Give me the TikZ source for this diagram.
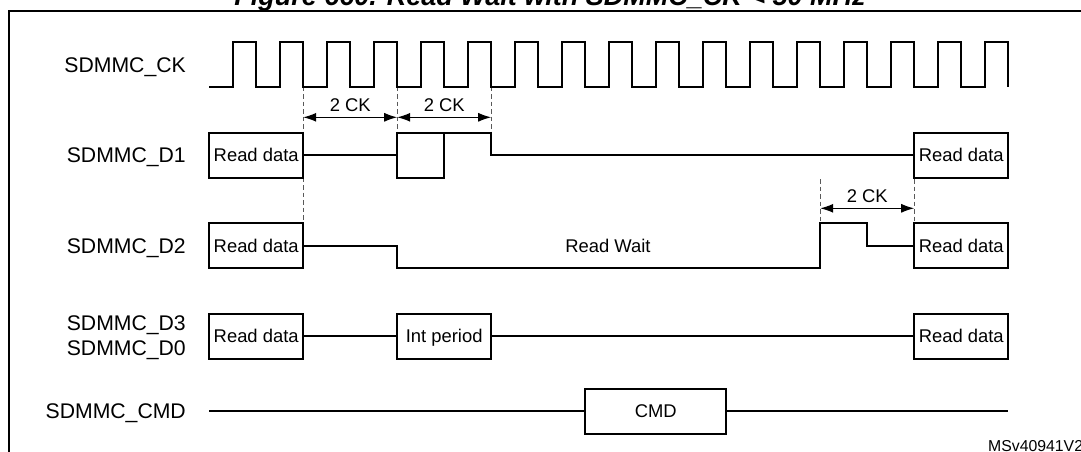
\documentclass[tikz,border=0pt]{standalone}
\usepackage{fontspec}
\setmainfont{Liberation Sans}
\usetikzlibrary{arrows.meta}
\newcommand\fLab{\fontsize{21.2}{25.7}\selectfont}
\newcommand\fBox{\fontsize{18.4}{22}\selectfont}
\newcommand\fTitle{\fontsize{27}{32}\selectfont\bfseries\itshape}
\newcommand\fId{\fontsize{15.8}{18}\selectfont}
\tikzset{
  sig/.style={line width=2pt},
  databox/.style={draw, line width=2pt, minimum height=45pt, inner sep=0pt, text depth=0pt, font=\fBox},
  lab/.style={anchor=base east, font=\fLab, inner sep=0pt, align=right},
  guide/.style={draw=black!65, line width=1pt, dash pattern=on 4.5pt off 3pt},
  dimarrow/.style={{Latex[length=13pt,width=9pt]}-{Latex[length=13pt,width=9pt]}, line width=1.2pt},
  dimlabel/.style={font=\fBox, text depth=0pt, inner sep=0pt},
}
\begin{document}
\begin{tikzpicture}[x=1pt, y=-1pt, line join=miter]
\useasboundingbox (0,0) rectangle (1081,452);
\clip (0,0) rectangle (1081,452);
% frame and title
\draw[line width=2pt] (9,470) -- (9,11) -- (1100,11);
\node[anchor=base, font=\fTitle, inner sep=0pt] (title) at (550,6) {Figure 660. Read Wait with SDMMC\_CK < 50 MHz};
% signal labels
\node[lab] (lck) at (186,72.1) {SDMMC\_CK};
\node[lab] (ld1) at (186,162.6) {SDMMC\_D1};
\node[lab] (ld2) at (186,253.1) {SDMMC\_D2};
\node[lab] (ld30) at (186,355.9) {SDMMC\_D3\\SDMMC\_D0};
\node[lab] (lcmd) at (186,418.6) {SDMMC\_CMD};
% guides
\draw[guide] (303.2,86.7) -- (303.2,132.5);
\draw[guide] (303.2,177.5) -- (303.2,223);
\draw[guide] (397.2,86.7) -- (397.2,132.5);
\draw[guide] (491.2,86.7) -- (491.2,132.5);
\draw[guide] (820.2,179) -- (820.2,223);
\draw[guide] (914.2,179) -- (914.2,223);
% clock
\draw[sig] (209.2,86.7) foreach \i in {1,...,17} { -- ++(23.5,0) -- ++(0,-44.4) -- ++(23.5,0) -- ++(0,44.4) };
% timing dimensions
\coordinate (a1) at (303.2,117.3);
\coordinate (a2) at (397.2,117.3);
\coordinate (a3) at (491.2,117.3);
\coordinate (a4) at (820.2,208.3);
\coordinate (a5) at (914.2,208.3);
\draw[dimarrow] (a1) -- (a2);
\draw[dimarrow] (a2) -- (a3);
\draw[dimarrow] (a4) -- (a5);
\node[dimlabel] (t1) at (350.2,105.5) {2 CK};
\node[dimlabel] (t2) at (444.2,105.5) {2 CK};
\node[dimlabel] (t3) at (867.2,196.5) {2 CK};
% D1
\node[databox, minimum width=94pt] (d1a) at (256.2,155) {Read data};
\node[databox, minimum width=94pt] (d1b) at (961.2,155) {Read data};
\draw[sig] (d1a.east) -- (397.2,155);
\draw[sig] (444.2,132.5) -- (444.2,177.5) -- (397.2,177.5) -- (397.2,132.5) -- (491.2,132.5) -- (491.2,155) -- (d1b.west);
% D2
\node[databox, minimum width=94pt] (d2a) at (256.2,245.5) {Read data};
\node[databox, minimum width=94pt] (d2b) at (961.2,245.5) {Read data};
\draw[sig] (d2a.east) -- (397.2,245.5) -- (397.2,268) -- (820.2,268) -- (820.2,223) -- (867.2,223) -- (867.2,245.5) -- (d2b.west);
\node[dimlabel] (rw) at (608,245.5) {Read Wait};
% D3/D0
\node[databox, minimum width=94pt] (d3a) at (256.2,336) {Read data};
\node[databox, minimum width=94pt] (ip) at (444.2,336) {Int period};
\node[databox, minimum width=94pt] (d3b) at (961.2,336) {Read data};
\draw[sig] (d3a) -- (ip);
\draw[sig] (ip) -- (d3b);
% CMD
\coordinate (cs) at (209.2,411);
\coordinate (ce) at (1008.2,411);
\node[databox, minimum width=141pt] (cmd) at (655.7,411) {CMD};
\draw[sig] (cs) -- (cmd);
\draw[sig] (cmd) -- (ce);
% identifier
\node[anchor=base west, font=\fId, inner sep=0pt] (id) at (988,451) {MSv40941V2};
\end{tikzpicture}
\end{document}
